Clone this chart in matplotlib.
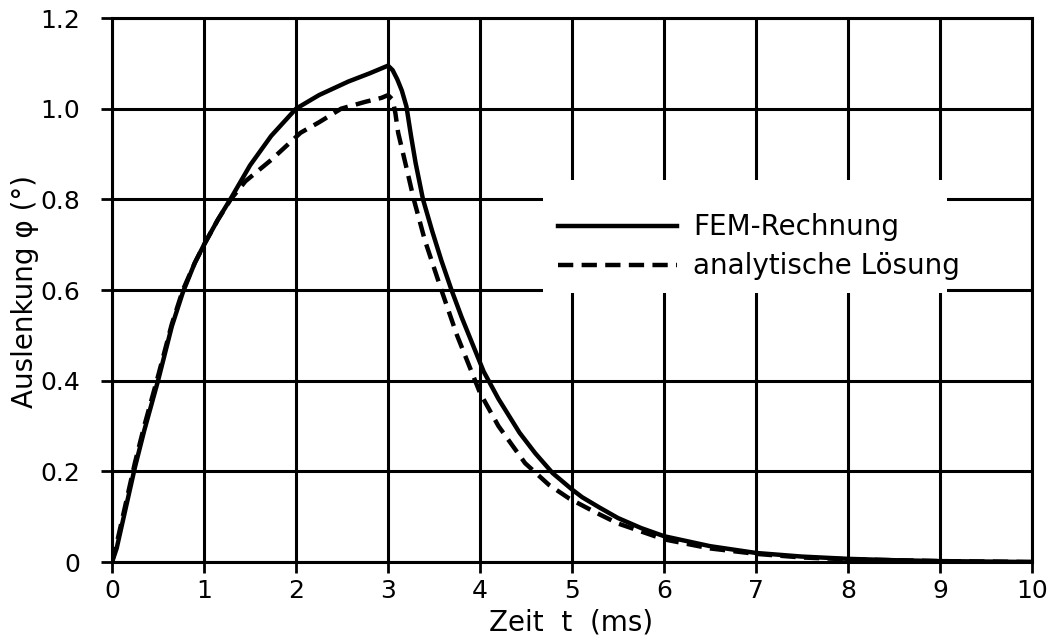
import matplotlib.pyplot as plt
from matplotlib.patches import Rectangle

plt.rcParams['font.family'] = ['DejaVu Sans']
plt.rcParams['lines.scale_dashes'] = False

# FEM result (solid)
t_fem = [0, 0.05, 0.15, 0.25, 0.35, 0.5, 0.65, 0.77, 0.9, 1.0, 1.15, 1.3,
         1.5, 1.73, 2.0, 2.25, 2.57, 2.8, 3.0, 3.05, 3.1, 3.15, 3.2, 3.25,
         3.3, 3.38, 3.48, 3.58, 3.69, 3.8, 3.9, 4.04, 4.2, 4.43, 4.6, 4.79,
         5.0, 5.11, 5.3, 5.5, 5.75, 6.0, 6.5, 7.0, 7.5, 8.0, 8.5, 9.0, 10.0]
phi_fem = [0, 0.03, 0.12, 0.21, 0.29, 0.40, 0.52, 0.595, 0.66, 0.70, 0.755,
           0.805, 0.875, 0.94, 1.0, 1.03, 1.06, 1.078, 1.095, 1.085, 1.065,
           1.04, 1.005, 0.94, 0.88, 0.80, 0.73, 0.665, 0.60, 0.54, 0.49,
           0.42, 0.36, 0.285, 0.24, 0.196, 0.16, 0.143, 0.12, 0.097, 0.075,
           0.057, 0.035, 0.02, 0.012, 0.007, 0.004, 0.002, 0.0]

# analytical solution (dashed)
t_ana = [0, 0.05, 0.15, 0.25, 0.35, 0.5, 0.65, 0.77, 0.9, 1.0, 1.15, 1.29,
         1.45, 1.73, 2.05, 2.25, 2.49, 2.75, 2.93, 3.0, 3.05, 3.08, 3.11,
         3.2, 3.28, 3.4, 3.58, 3.75, 4.0, 4.2, 4.49, 4.75, 4.97, 5.25, 5.5,
         6.0, 6.5, 7.0, 7.5, 8.0, 9.0, 10.0]
phi_ana = [0, 0.04, 0.13, 0.22, 0.30, 0.41, 0.525, 0.60, 0.66, 0.70, 0.755,
           0.80, 0.84, 0.887, 0.947, 0.97, 1.0, 1.015, 1.024, 1.03, 1.02,
           0.99, 0.947, 0.87, 0.80, 0.71, 0.60, 0.50, 0.373, 0.30, 0.218,
           0.17, 0.14, 0.11, 0.085, 0.05, 0.03, 0.018, 0.01, 0.006, 0.002,
           0.0]

xticks = list(range(0, 11))
yticks = [0, 0.2, 0.4, 0.6, 0.8, 1.0, 1.2]
ytick_labels = ['0', '0.2', '0.4', '0.6', '0.8', '1.0', '1.2']

fig = plt.figure(figsize=(10.52, 6.44), dpi=100)
ax = fig.add_axes([0.1065, 0.1273, 0.8745, 0.8447])

ax.set_xlim(0, 10)
ax.set_ylim(0, 1.2)
ax.set_xticks(xticks)
ax.set_xticklabels([str(v) for v in xticks])
ax.set_yticks(yticks)
ax.set_yticklabels(ytick_labels)
ax.tick_params(direction='out', length=8, width=2, labelsize=18, color='black')
ax.tick_params(axis='y', pad=15)
ax.tick_params(axis='x', pad=4)

ax.grid(True, color='black', linewidth=2.2)
ax.set_axisbelow(True)
for sp in ax.spines.values():
    sp.set_linewidth(2.2)

# white box behind the legend, cuts the grid
ax.add_patch(Rectangle((0.468, 0.494), 0.44, 0.208, transform=ax.transAxes,
                       facecolor='white', edgecolor='none', zorder=1.5))

ax.plot(t_fem, phi_fem, color='black', lw=3.2, zorder=3,
        solid_joinstyle='round', label='FEM-Rechnung')
ax.plot(t_ana, phi_ana, color='black', lw=3.2, zorder=3, dashes=(11, 6),
        label='analytische Lösung')

ax.legend(loc='upper left', bbox_to_anchor=(0.485, 0.641), frameon=False,
          fontsize=20, handlelength=4.28, handletextpad=0.58, labelspacing=0.4,
          borderaxespad=0, borderpad=0)

fig.text(0.543, 0.034, 'Zeit  t  (ms)', fontsize=20, ha='center', va='center')
fig.text(0.024, 0.547, 'Auslenkung φ (°)', fontsize=20, ha='center',
         va='center', rotation=90)

fig.savefig('out.png', dpi=100)
